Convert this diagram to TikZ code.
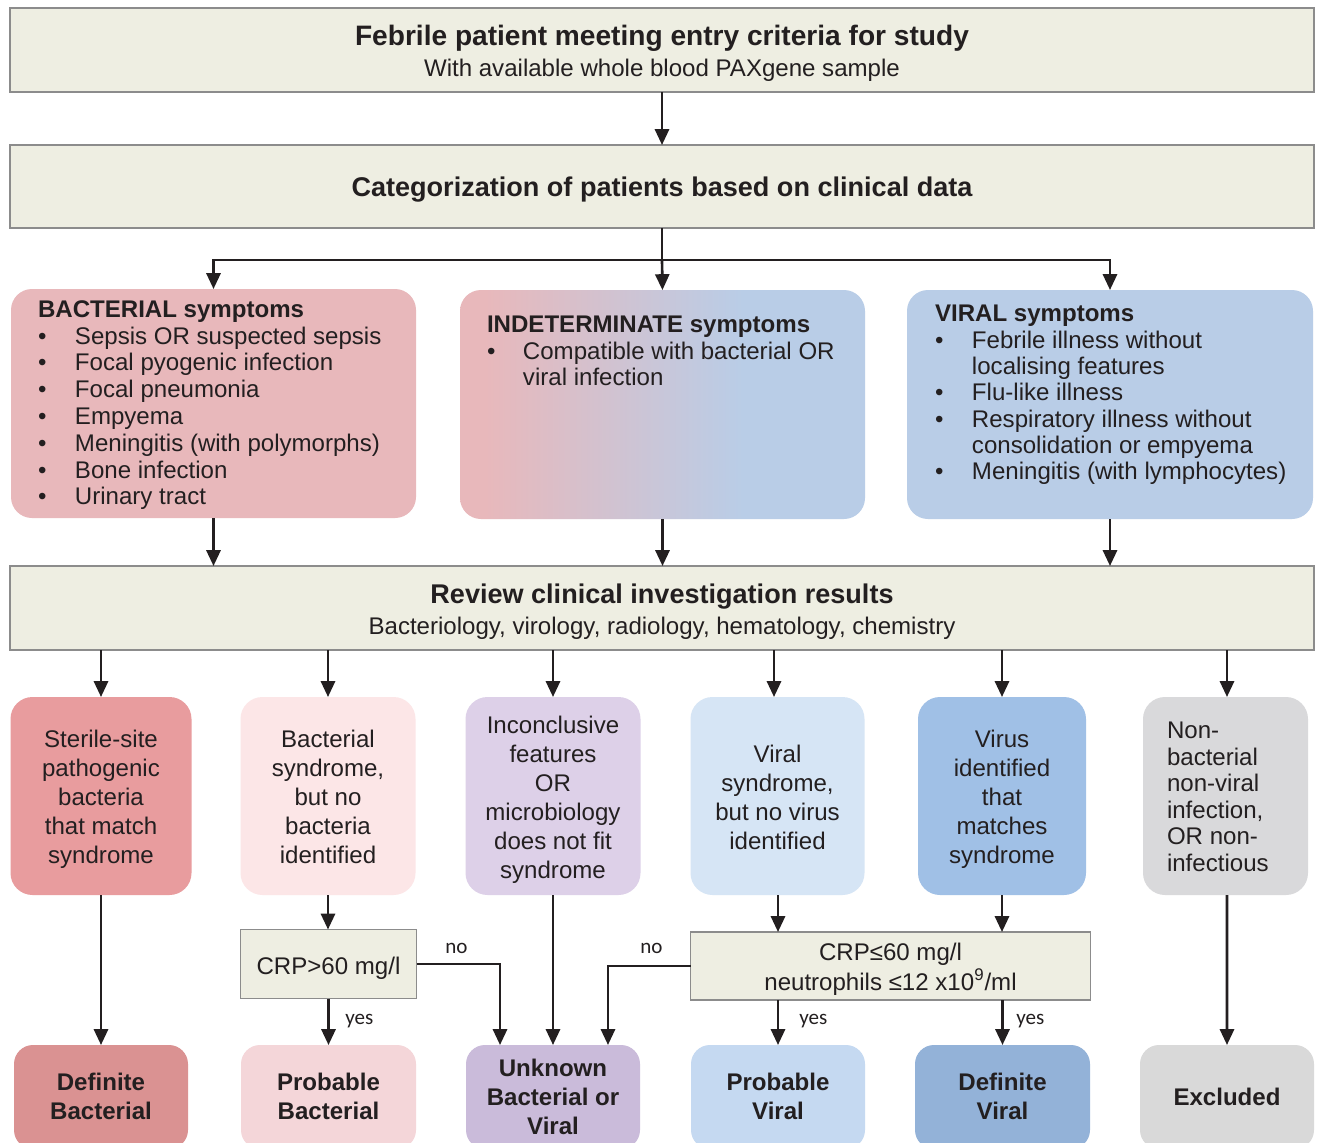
\documentclass[tikz,border=0pt]{standalone}
\usepackage{fontspec}
\setmainfont{Liberation Sans}
\newfontfamily\calib{Carlito}
\usetikzlibrary{arrows.meta}
\definecolor{beige}{HTML}{EEEEE2}
\definecolor{bordergray}{HTML}{8C8C8C}
\definecolor{txt}{HTML}{231F20}
\definecolor{bsym}{HTML}{E8B8BB}
\definecolor{vsym}{HTML}{B9CDE7}
\definecolor{rA}{HTML}{E89C9E}
\definecolor{rB}{HTML}{FCE6E7}
\definecolor{rC}{HTML}{DDD0E8}
\definecolor{rD}{HTML}{D6E5F5}
\definecolor{rE}{HTML}{A0C0E6}
\definecolor{rF}{HTML}{D9D9DB}
\definecolor{fA}{HTML}{DA9292}
\definecolor{fB}{HTML}{F4D6D9}
\definecolor{fC}{HTML}{CABBDA}
\definecolor{fD}{HTML}{C5D9F1}
\definecolor{fE}{HTML}{93B2D8}
\definecolor{fF}{HTML}{D9D9D9}
\pgfdeclarehorizontalshading{indet}{100bp}{color(0bp)=(bsym); color(28bp)=(bsym); color(60bp)=(vsym); color(100bp)=(vsym)}
\newcommand{\bul}{\textbullet}
\tikzset{
  sz/.style 2 args={minimum width=#1*0.02cm, minimum height=#2*0.02cm, inner sep=0pt, outer sep=0pt},
  beigebox/.style={draw=bordergray, line width=0.7pt, fill=beige},
  rbox/.style={rounded corners=0.44cm},
  fbox/.style={rounded corners=0.38cm},
  symbox/.style={rounded corners=0.42cm},
  tx/.style={inner sep=0pt, outer sep=0pt, text=txt, anchor=base},
  reg/.style={font=\fontsize{13.7}{16.6}\selectfont},
  lab/.style={inner sep=0pt, text=txt, anchor=base west, font=\calib\fontsize{12}{14}\selectfont},
  arr/.style={draw=txt, line width=1.5pt, -{Triangle[length=9pt,width=8pt]}},
  ln/.style={draw=txt, line width=1.5pt},
}
\begin{document}
\begin{tikzpicture}[x=0.02cm, y=-0.02cm]
\useasboundingbox (0,0) rectangle (1320,1143);
\clip (0,0) rectangle (1320,1143);
\fill[white] (0,0) rectangle (1320,1143);

% top boxes
\node[sz={1304}{84}, beigebox] (top) at (662,50) {};
\node[tx, font=\fontsize{16}{17}\selectfont\bfseries] (topT) at (662,45.7) {Febrile patient meeting entry criteria for study};
\node[tx, reg] (topS) at (662,76.7) {With available whole blood PAXgene sample};

\node[sz={1304}{83}, beigebox] (cat) at (662,186.5) {};
\node[tx, font=\fontsize{15.4}{17}\selectfont\bfseries] (catT) at (662,196.7) {Categorization of patients based on clinical data};

% symptom boxes
\node[sz={405}{229}, symbox, fill=bsym] (bact) at (213.5,403.5) {};
\node[sz={405}{229}, symbox, shading=indet] (ind) at (662.5,404.5) {};
\node[sz={406}{229}, symbox, fill=vsym] (vir) at (1110,404.5) {};

\node[tx, anchor=base west, font=\fontsize{13.7}{15.25}\selectfont] (bactT) at (38,317.3) {\begin{tabular}[t]{@{}p{0.74cm}@{}l@{}}
\multicolumn{2}{@{}l@{}}{\bfseries BACTERIAL symptoms}\\
\bul & Sepsis OR suspected sepsis\\
\bul & Focal pyogenic infection\\
\bul & Focal pneumonia\\
\bul & Empyema\\
\bul & Meningitis (with polymorphs)\\
\bul & Bone infection\\
\bul & Urinary tract
\end{tabular}};

\node[tx, anchor=base west, font=\fontsize{13.7}{15.1}\selectfont] (indT) at (487,332.5) {\begin{tabular}[t]{@{}p{0.72cm}@{}l@{}}
\multicolumn{2}{@{}l@{}}{\bfseries INDETERMINATE symptoms}\\
\bul & Compatible with bacterial OR\\
 & viral infection
\end{tabular}};

\node[tx, anchor=base west, font=\fontsize{13.7}{15.0}\selectfont] (virT) at (935,321.7) {\begin{tabular}[t]{@{}p{0.74cm}@{}l@{}}
\multicolumn{2}{@{}l@{}}{\bfseries VIRAL symptoms}\\
\bul & Febrile illness without\\
 & localising features\\
\bul & Flu-like illness\\
\bul & Respiratory illness without\\
 & consolidation or empyema\\
\bul & Meningitis (with lymphocytes)
\end{tabular}};

% review box
\node[sz={1304}{84}, beigebox] (rev) at (662,608) {};
\node[tx, font=\fontsize{15.4}{17}\selectfont\bfseries] (revT) at (662,603.5) {Review clinical investigation results};
\node[tx, reg] (revS) at (662,634.5) {Bacteriology, virology, radiology, hematology, chemistry};

% row boxes
\node[sz={181}{198}, rbox, fill=rA] (r1) at (101,796) {};
\node[sz={175}{198}, rbox, fill=rB] (r2) at (328,796) {};
\node[sz={175}{198}, rbox, fill=rC] (r3) at (553,796) {};
\node[sz={174}{198}, rbox, fill=rD] (r4) at (777.5,796) {};
\node[sz={168}{198}, rbox, fill=rE] (r5) at (1002,796) {};
\node[sz={165}{198}, rbox, fill=rF] (r6) at (1225.5,796) {};

\node[tx, reg] (r1T) at (101,747) {\begin{tabular}[t]{@{}c@{}}Sterile-site\\pathogenic\\bacteria\\that match\\syndrome\end{tabular}};
\node[tx, reg] (r2T) at (328,747) {\begin{tabular}[t]{@{}c@{}}Bacterial\\syndrome,\\but no\\bacteria\\identified\end{tabular}};
\node[tx, reg] (r3T) at (553,733) {\begin{tabular}[t]{@{}c@{}}Inconclusive\\features\\OR\\microbiology\\does not fit\\syndrome\end{tabular}};
\node[tx, reg] (r4T) at (777.5,762) {\begin{tabular}[t]{@{}c@{}}Viral\\syndrome,\\but no virus\\identified\end{tabular}};
\node[tx, reg] (r5T) at (1002,747) {\begin{tabular}[t]{@{}c@{}}Virus\\identified\\that\\matches\\syndrome\end{tabular}};
\node[tx, anchor=base west, font=\fontsize{13.7}{15.1}\selectfont] (r6T) at (1167,738.5) {\begin{tabular}[t]{@{}l@{}}Non-\\bacterial\\non-viral\\infection,\\OR non-\\infectious\end{tabular}};

% CRP boxes
\node[sz={176}{69}, beigebox] (crp1) at (328.5,964) {};
\node[tx, reg] (crp1T) at (328.5,974) {CRP>60 mg/l};
\node[sz={400}{68}, beigebox] (crp2) at (890.5,966) {};
\node[tx, font=\fontsize{13.7}{17.1}\selectfont] (crp2T) at (890.5,960) {\begin{tabular}[t]{@{}c@{}}CRP≤60 mg/l\\neutrophils ≤12 x10\textsuperscript{9}/ml\end{tabular}};

% final boxes
\node[sz={174}{104}, fbox, fill=fA] (f1) at (101,1097) {};
\node[sz={175}{104}, fbox, fill=fB] (f2) at (328.5,1097) {};
\node[sz={174}{104}, fbox, fill=fC] (f3) at (553,1097) {};
\node[sz={174}{104}, fbox, fill=fD] (f4) at (778,1097) {};
\node[sz={175}{104}, fbox, fill=fE] (f5) at (1002.5,1097) {};
\node[sz={174}{104}, fbox, fill=fF] (f6) at (1227,1097) {};

\node[tx, font=\fontsize{13.7}{16.5}\selectfont\bfseries] (f1T) at (101,1090.5) {\begin{tabular}[t]{@{}c@{}}Definite\\Bacterial\end{tabular}};
\node[tx, font=\fontsize{13.7}{16.5}\selectfont\bfseries] (f2T) at (328.5,1090.5) {\begin{tabular}[t]{@{}c@{}}Probable\\Bacterial\end{tabular}};
\node[tx, font=\fontsize{13.7}{16.5}\selectfont\bfseries] (f3T) at (553,1076.5) {\begin{tabular}[t]{@{}c@{}}Unknown\\Bacterial or\\Viral\end{tabular}};
\node[tx, font=\fontsize{13.7}{16.5}\selectfont\bfseries] (f4T) at (778,1090.5) {\begin{tabular}[t]{@{}c@{}}Probable\\Viral\end{tabular}};
\node[tx, font=\fontsize{13.7}{16.5}\selectfont\bfseries] (f5T) at (1002.5,1090.5) {\begin{tabular}[t]{@{}c@{}}Definite\\Viral\end{tabular}};
\node[tx, font=\fontsize{13.7}{16.5}\selectfont\bfseries] (f6T) at (1227,1105.5) {Excluded};

% connectors
\draw[arr] (top.south) -- (cat.north);
\coordinate (split) at (662,260);
\draw[ln] (cat.south) -- (split);
\draw[arr] (split) -| (bact.north);
\draw[arr] (split) -- (ind.north);
\draw[arr] (split) -| (vir.north);

\draw[arr] (bact.south) -- (bact.south |- rev.north);
\draw[arr] (ind.south) -- (ind.south |- rev.north);
\draw[arr] (vir.south) -- (vir.south |- rev.north);

\draw[arr] (r1.north |- rev.south) -- (r1.north);
\draw[arr] (r2.north |- rev.south) -- (r2.north);
\draw[arr] (r3.north |- rev.south) -- (r3.north);
\draw[arr] ([xshift=-0.07cm]r4.north |- rev.south) -- ([xshift=-0.07cm]r4.north);
\draw[arr] (r5.north |- rev.south) -- (r5.north);
\draw[arr] ([xshift=0.03cm]r6.north |- rev.south) -- ([xshift=0.03cm]r6.north);

\draw[arr] (r1.south) -- (r1.south |- f1.north);
\draw[arr] (r2.south) -- (r2.south |- crp1.north);
\draw[arr] (crp1.south) -- (crp1.south |- f2.north);
\draw[arr] (crp1.east) -| ([xshift=-1.06cm]f3.north);
\draw[arr] (r3.south) -- (f3.north);
\draw[arr] (crp2.west) -| ([xshift=1.1cm]f3.north);
\draw[arr] ([xshift=0.01cm]r4.south) -- ([xshift=0.01cm]r4.south |- crp2.north);
\draw[arr] (r5.south) -- (r5.south |- crp2.north);
\draw[arr] (f4.north |- crp2.south) -- (f4.north);
\draw[arr] (f5.north |- crp2.south) -- (f5.north);
\draw[arr] ([xshift=0.03cm]r6.south) -- (f6.north);

% labels
\node[lab] (no1) at (445,953) {no};
\node[lab] (no2) at (640,953) {no};
\node[lab] (yes1) at (345,1024) {yes};
\node[lab] (yes2) at (799,1024) {yes};
\node[lab] (yes3) at (1016,1024) {yes};
\end{tikzpicture}
\end{document}
